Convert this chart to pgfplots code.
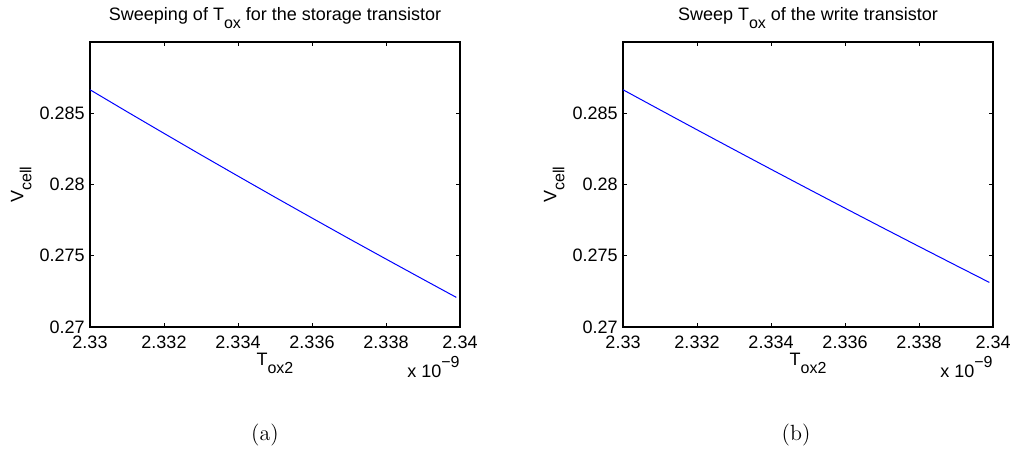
\documentclass[border=0pt]{standalone}
\usepackage{pgfplots}
\pgfplotsset{compat=1.18}
\usepackage{pgfplotstable}
\usepackage{fontspec}
\newfontfamily\arial{Liberation Sans}
\newcommand{\sbs}[1]{\raisebox{-4pt}{\fontsize{8}{9}\selectfont #1}}
\newcommand{\sps}[1]{\raisebox{5pt}{\fontsize{8}{9}\selectfont #1}}

\pgfplotstableread{
x y
2.3300 0.28665
2.3310 0.28511
2.3320 0.28359
2.3330 0.28208
2.3340 0.28059
2.3350 0.27911
2.3360 0.27765
2.3370 0.27620
2.3380 0.27477
2.3390 0.27335
2.3399 0.27208
}\storagetab

\pgfplotstableread{
x y
2.3300 0.28665
2.3310 0.28524
2.3320 0.28384
2.3330 0.28245
2.3340 0.28107
2.3350 0.27970
2.3360 0.27834
2.3370 0.27699
2.3380 0.27565
2.3390 0.27432
2.3399 0.27313
}\writetab

\pgfplotsset{mystyle/.style={
  scale only axis, width=185pt, height=142.5pt, anchor=south west,
  clip=false,
  xmin=2.33, xmax=2.34, ymin=0.27, ymax=0.29,
  xtick={2.33,2.332,2.334,2.336,2.338,2.34},
  xticklabels={2.33,2.332,2.334,2.336,2.338,2.34},
  ytick={0.27,0.275,0.28,0.285},
  yticklabels={0.27,0.275,0.28,0.285},
  scaled x ticks=false, scaled y ticks=false,
  tick align=inside, major tick length=2pt,
  axis line style={line width=0.6pt},
  every tick/.style={black, line width=0.5pt},
  tick label style={font=\arial\fontsize{9}{10}\selectfont},
  xticklabel style={inner sep=0pt, anchor=north, yshift=-4.5pt},
  yticklabel style={inner sep=0pt, anchor=east, xshift=-2.5pt},
  every axis title/.style={font=\arial\fontsize{9}{10}\selectfont, at={(axis description cs:0.5,1)}, anchor=base, yshift=11pt, inner sep=0pt},
  xlabel style={font=\arial\fontsize{9}{10}\selectfont, at={(axis description cs:0.5,-0.0912)}, anchor=north, inner sep=0pt},
  ylabel style={font=\arial\fontsize{9}{10}\selectfont, at={(axis description cs:-0.157,0.5)}, anchor=south, inner sep=0pt},
  xlabel={T\sbs{ox2}}, ylabel={V\sbs{cell}},
}}

\begin{document}
\begin{tikzpicture}
\useasboundingbox (0,0) rectangle (507.5pt,226pt);
\begin{axis}[mystyle, at={(45pt,62.5pt)},
  title={Sweeping of T\sbs{ox} for the storage transistor}]
\addplot[color=blue, line width=0.5pt, no marks] table[x=x,y=y] {\storagetab};
\node[font=\arial\fontsize{9}{10}\selectfont, anchor=base east, inner sep=0pt] at ([yshift=-25pt]axis description cs:1,0) {x 10\sps{−9}};
\end{axis}
\begin{axis}[mystyle, at={(311.5pt,62.5pt)},
  title={Sweep T\sbs{ox} of the write transistor}]
\addplot[color=blue, line width=0.5pt, no marks] table[x=x,y=y] {\writetab};
\node[font=\arial\fontsize{9}{10}\selectfont, anchor=base east, inner sep=0pt] at ([yshift=-25pt]axis description cs:1,0) {x 10\sps{−9}};
\end{axis}
\node[font=\fontsize{11}{13}\selectfont] at (132.5pt,8.5pt) {(a)};
\node[font=\fontsize{11}{13}\selectfont] at (398pt,8.5pt) {(b)};
\end{tikzpicture}
\end{document}
